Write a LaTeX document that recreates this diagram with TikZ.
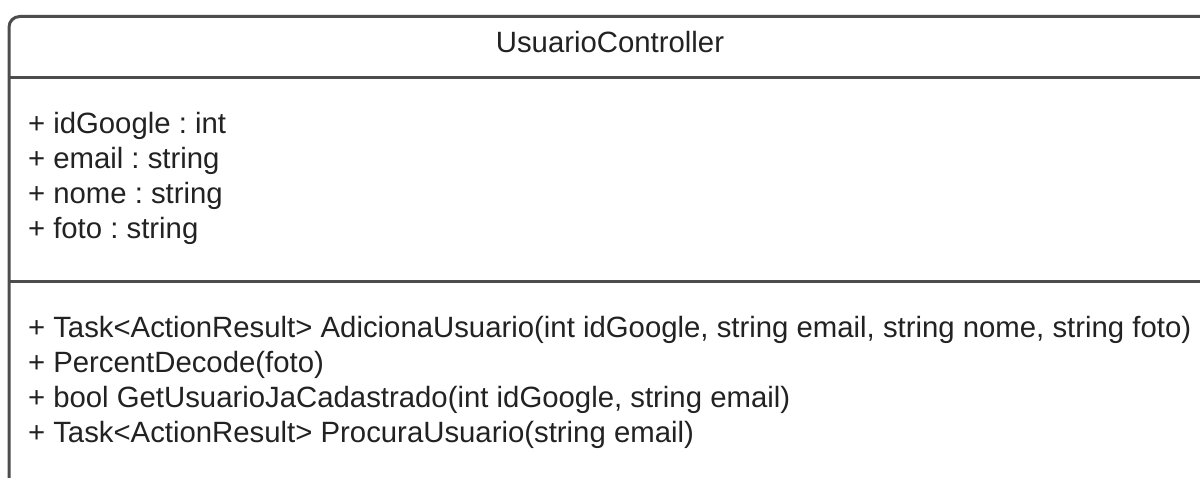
\documentclass[tikz,border=0pt]{standalone}
\usepackage{fontspec}
\setmainfont{Liberation Sans}
\definecolor{edge}{HTML}{4D4D4D}
\definecolor{ink}{HTML}{222222}
\begin{document}
\frenchspacing
\begin{tikzpicture}[x=0.75pt,y=-0.75pt,
  frame/.style={draw=edge,line width=2.25pt},
  txt/.style={inner sep=0pt,outer sep=0pt,text=ink,font=\fontsize{22}{26}\selectfont},
  member/.style={txt,anchor=base west}]
\useasboundingbox (0,0) rectangle (1200,478);
\clip (0,0) rectangle (1200,478);
\fill[white] (0,0) rectangle (1200,478);
\coordinate (bl) at (9,600);
\coordinate (br) at (1211,600);
\draw[frame,rounded corners=8pt] (bl) -- (9,16.5) -- (1211,16.5) -- (br);
\coordinate (d1l) at (9,77.5);
\coordinate (d1r) at (1211,77.5);
\coordinate (d2l) at (9,281.5);
\coordinate (d2r) at (1211,281.5);
\draw[frame] (d1l) -- (d1r);
\draw[frame] (d2l) -- (d2r);
\node[txt,anchor=base] (title) at (610,53) {UsuarioController};
\node[member] (a1) at (28,133) {+ idGoogle : int};
\node[member] (a2) at (28,168) {+ email : string};
\node[member] (a3) at (28,203) {+ nome : string};
\node[member] (a4) at (28,238) {+ foto : string};
\node[member] (m1) at (28,337) {+ Task<ActionResult> AdicionaUsuario(int idGoogle, string email, string nome, string foto)};
\node[member] (m2) at (28,372) {+ PercentDecode(foto)};
\node[member] (m3) at (28,407) {+ bool GetUsuarioJaCadastrado(int idGoogle, string email)};
\node[member] (m4) at (28,442) {+ Task<ActionResult> ProcuraUsuario(string email)};
\end{tikzpicture}
\end{document}
